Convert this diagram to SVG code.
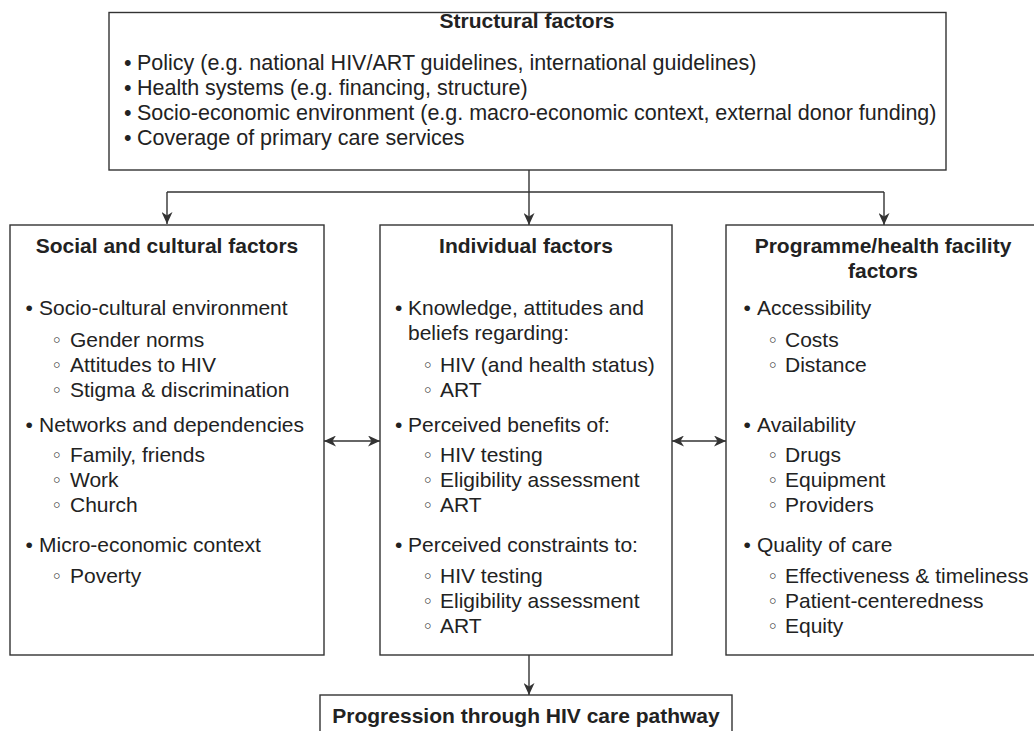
<svg xmlns="http://www.w3.org/2000/svg" width="1034" height="731" viewBox="0 0 1034 731">
  <defs>
    <style>
      .box { fill: #ffffff; stroke: #333333; stroke-width: 1.4; }
      .t { font-family: "Liberation Sans", Arial, Helvetica, sans-serif; font-size: 21px; fill: #222222; }
      .ts { font-size: 21.5px; }
      .h { font-family: "Liberation Sans", Arial, Helvetica, sans-serif; font-size: 21px; font-weight: bold; fill: #222222; text-anchor: middle; }
      .sb { font-family: "DejaVu Sans", "Liberation Sans", sans-serif; font-size: 19px; }
      .line { fill: none; stroke: #333333; stroke-width: 1.4; }
    </style>
    <marker id="ah" markerUnits="userSpaceOnUse" markerWidth="12" markerHeight="11" refX="12" refY="5.5" orient="auto-start-reverse">
      <path d="M0,0 L12,5.5 L0,11 L3.5,5.5 Z" fill="#333333"/>
    </marker>
  </defs>
  <rect width="1034" height="731" fill="#ffffff"/>

  <g id="connectors">
    <polyline class="line" points="529,170 529,192"/>
    <polyline class="line" points="167,192 884,192"/>
    <line class="line" x1="167" y1="192" x2="167" y2="224" marker-end="url(#ah)"/>
    <line class="line" x1="529" y1="192" x2="529" y2="225" marker-end="url(#ah)"/>
    <line class="line" x1="884" y1="192" x2="884" y2="225" marker-end="url(#ah)"/>
    <line class="line" x1="324" y1="441" x2="380" y2="441" marker-start="url(#ah)" marker-end="url(#ah)"/>
    <line class="line" x1="672" y1="441" x2="726" y2="441" marker-start="url(#ah)" marker-end="url(#ah)"/>
    <line class="line" x1="529" y1="655" x2="529" y2="695" marker-end="url(#ah)"/>
  </g>

  <g id="structural">
    <rect class="box" x="109" y="12.5" width="837" height="157.5"/>
    <text class="h" x="527" y="28">Structural factors</text>
    <text class="t ts" y="70"><tspan x="124">•</tspan><tspan x="137">Policy (e.g. national HIV/ART guidelines, international guidelines)</tspan></text>
    <text class="t ts" y="95"><tspan x="124">•</tspan><tspan x="137">Health systems (e.g. financing, structure)</tspan></text>
    <text class="t ts" y="120"><tspan x="124">•</tspan><tspan x="137">Socio-economic environment (e.g. macro-economic context, external donor funding)</tspan></text>
    <text class="t ts" y="145"><tspan x="124">•</tspan><tspan x="137">Coverage of primary care services</tspan></text>
  </g>

  <g id="social">
    <rect class="box" x="10" y="225" width="314" height="430"/>
    <text class="h" x="167" y="253">Social and cultural factors</text>
    <text class="t" y="315"><tspan x="25.5">•</tspan><tspan x="39">Socio-cultural environment</tspan></text>
    <text class="t" y="347"><tspan class="sb" x="51">◦</tspan><tspan x="70">Gender norms</tspan></text>
    <text class="t" y="372"><tspan class="sb" x="51">◦</tspan><tspan x="70">Attitudes to HIV</tspan></text>
    <text class="t" y="397"><tspan class="sb" x="51">◦</tspan><tspan x="70">Stigma &amp; discrimination</tspan></text>
    <text class="t" y="432"><tspan x="25.5">•</tspan><tspan x="39">Networks and dependencies</tspan></text>
    <text class="t" y="462"><tspan class="sb" x="51">◦</tspan><tspan x="70">Family, friends</tspan></text>
    <text class="t" y="487"><tspan class="sb" x="51">◦</tspan><tspan x="70">Work</tspan></text>
    <text class="t" y="512"><tspan class="sb" x="51">◦</tspan><tspan x="70">Church</tspan></text>
    <text class="t" y="552"><tspan x="25.5">•</tspan><tspan x="39">Micro-economic context</tspan></text>
    <text class="t" y="583"><tspan class="sb" x="51">◦</tspan><tspan x="70">Poverty</tspan></text>
  </g>

  <g id="individual">
    <rect class="box" x="380" y="225" width="292" height="430"/>
    <text class="h" x="526" y="253">Individual factors</text>
    <text class="t" y="315"><tspan x="395">•</tspan><tspan x="408">Knowledge, attitudes and</tspan></text>
    <text class="t" x="408" y="340">beliefs regarding:</text>
    <text class="t" y="372"><tspan class="sb" x="422">◦</tspan><tspan x="440">HIV (and health status)</tspan></text>
    <text class="t" y="397"><tspan class="sb" x="422">◦</tspan><tspan x="440">ART</tspan></text>
    <text class="t" y="432"><tspan x="395">•</tspan><tspan x="408">Perceived benefits of:</tspan></text>
    <text class="t" y="462"><tspan class="sb" x="422">◦</tspan><tspan x="440">HIV testing</tspan></text>
    <text class="t" y="487"><tspan class="sb" x="422">◦</tspan><tspan x="440">Eligibility assessment</tspan></text>
    <text class="t" y="512"><tspan class="sb" x="422">◦</tspan><tspan x="440">ART</tspan></text>
    <text class="t" y="552"><tspan x="395">•</tspan><tspan x="408">Perceived constraints to:</tspan></text>
    <text class="t" y="583"><tspan class="sb" x="422">◦</tspan><tspan x="440">HIV testing</tspan></text>
    <text class="t" y="608"><tspan class="sb" x="422">◦</tspan><tspan x="440">Eligibility assessment</tspan></text>
    <text class="t" y="633"><tspan class="sb" x="422">◦</tspan><tspan x="440">ART</tspan></text>
  </g>

  <g id="programme">
    <rect class="box" x="726" y="225" width="320" height="430"/>
    <text class="h" x="883" y="253">Programme/health facility</text>
    <text class="h" x="883" y="278">factors</text>
    <text class="t" y="315"><tspan x="743.5">•</tspan><tspan x="757">Accessibility</tspan></text>
    <text class="t" y="347"><tspan class="sb" x="767">◦</tspan><tspan x="785">Costs</tspan></text>
    <text class="t" y="372"><tspan class="sb" x="767">◦</tspan><tspan x="785">Distance</tspan></text>
    <text class="t" y="432"><tspan x="743.5">•</tspan><tspan x="757">Availability</tspan></text>
    <text class="t" y="462"><tspan class="sb" x="767">◦</tspan><tspan x="785">Drugs</tspan></text>
    <text class="t" y="487"><tspan class="sb" x="767">◦</tspan><tspan x="785">Equipment</tspan></text>
    <text class="t" y="512"><tspan class="sb" x="767">◦</tspan><tspan x="785">Providers</tspan></text>
    <text class="t" y="552"><tspan x="743.5">•</tspan><tspan x="757">Quality of care</tspan></text>
    <text class="t" y="583"><tspan class="sb" x="767">◦</tspan><tspan x="785">Effectiveness &amp; timeliness</tspan></text>
    <text class="t" y="608"><tspan class="sb" x="767">◦</tspan><tspan x="785">Patient-centeredness</tspan></text>
    <text class="t" y="633"><tspan class="sb" x="767">◦</tspan><tspan x="785">Equity</tspan></text>
  </g>

  <g id="progression">
    <rect class="box" x="320" y="695" width="412" height="50"/>
    <text class="h" x="526" y="723">Progression through HIV care pathway</text>
  </g>
</svg>
